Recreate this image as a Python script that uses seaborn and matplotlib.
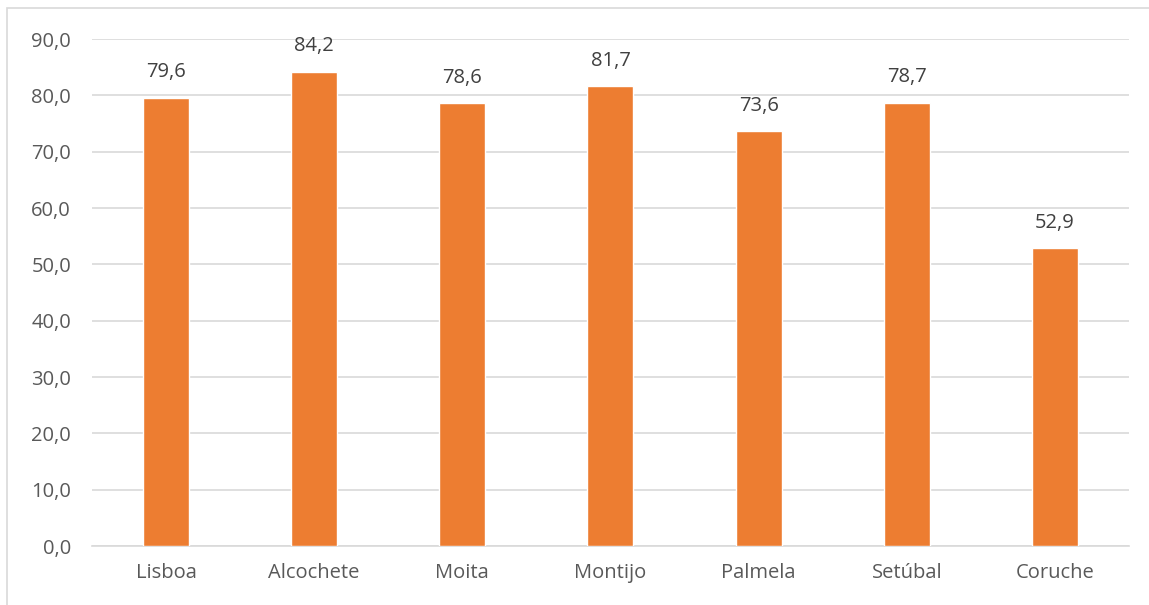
import matplotlib
matplotlib.use("Agg")
import matplotlib.pyplot as plt
import seaborn as sns
import pandas as pd
from matplotlib.patches import Rectangle

categories = ["Lisboa", "Alcochete", "Moita", "Montijo", "Palmela", "Setúbal", "Coruche"]
values = [79.6, 84.2, 78.6, 81.7, 73.6, 78.7, 52.9]
yticks = [0, 10, 20, 30, 40, 50, 60, 70, 80, 90]

sns.set_theme(style="white")
plt.rcParams['font.family'] = ['Open Sans', 'DejaVu Sans']

df = pd.DataFrame({"cat": categories, "val": values})

fig = plt.figure(figsize=(11.49, 6.05), dpi=100)
fig.patch.set_facecolor("white")
ax = fig.add_axes([0.080, 0.0975, 0.9026, 0.838])

sns.barplot(data=df, x="cat", y="val", color="#ED7D31", width=0.31, saturation=1, ax=ax, zorder=3)

ax.set_ylim(0, 90)
ax.set_yticks(yticks)
ax.set_yticklabels([f"{v:.1f}".replace(".", ",") for v in yticks])
ax.set_xlim(-0.5, len(categories) - 0.5)
ax.set_xlabel("")
ax.set_ylabel("")
ax.grid(axis="y", color="#D9D9D9", linewidth=1.2, zorder=0)
for s in ["top", "right", "left"]:
    ax.spines[s].set_visible(False)
ax.spines["bottom"].set_color("#D9D9D9")
ax.spines["bottom"].set_linewidth(1.2)
ax.tick_params(axis="both", length=0, labelsize=14.5, colors="#595959")
ax.tick_params(axis="x", pad=12)
ax.tick_params(axis="y", pad=15)

for p, v in zip(ax.patches, values):
    ax.annotate(f"{v:.1f}".replace(".", ","),
                (p.get_x() + p.get_width() / 2, p.get_height()),
                xytext=(0, 11), textcoords="offset points",
                ha="center", va="bottom", fontsize=14.5, color="#404040")

fig.add_artist(Rectangle((7 / 1149, -0.1), 1.2, 1 - 7.5 / 605 + 0.1,
                         transform=fig.transFigure, fill=False,
                         edgecolor="#D9D9D9", linewidth=1.2))

fig.savefig("out.png", dpi=100)
